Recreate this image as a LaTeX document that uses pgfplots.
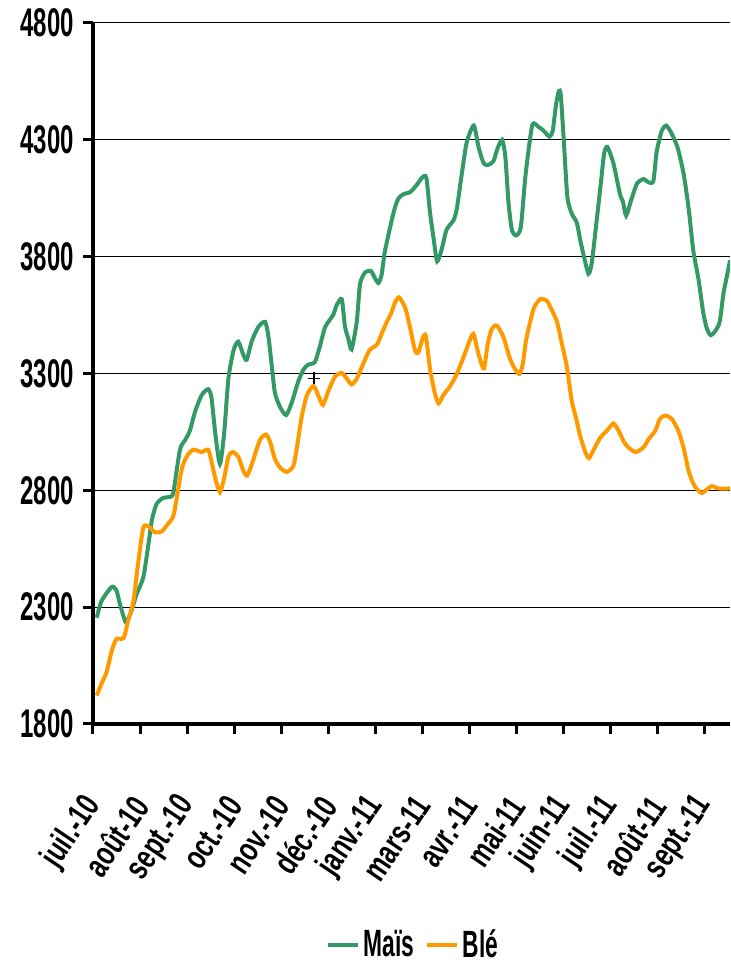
\documentclass[border=0pt]{standalone}
\usepackage{fontspec}
\setmainfont{Liberation Sans}
\newfontfamily\nf{Liberation Sans}[FakeStretch=0.6]
\newfontfamily\xf{Liberation Sans}[FakeStretch=0.72]
\usepackage{pgfplots}
\pgfplotsset{compat=1.18}
\definecolor{mais}{HTML}{339966}
\definecolor{ble}{HTML}{FF9900}
\begin{document}
\begin{tikzpicture}
\begin{axis}[
  scale only axis,
  width=318.5pt, height=350.5pt,
  xmin=0, xmax=13.55,
  ymin=1800, ymax=4800,
  axis x line=bottom, axis y line=left,
  axis line style={-, line width=1.8pt},
  xtick={0,1,2,3,4,5,6,7,8,9,10,11,12,13},
  xticklabels={juil.-10,août-10,sept.-10,oct.-10,nov.-10,déc.-10,janv.-11,mars-11,avr.-11,mai-11,juin-11,juil.-11,août-11,sept.-11},
  ytick={1800,2300,2800,3300,3800,4300,4800},
  yticklabels={1800,2300,2800,3300,3800,4300,4800},
  tick align=outside,
  major tick length=5pt,
  tick style={line width=1.5pt, black},
  ymajorgrids,
  grid style={black, line width=0.5pt},
  /pgf/number format/assume math mode=true,
  yticklabel style={font=\nf\bfseries\fontsize{20}{20}\selectfont, xshift=-1pt},
  xticklabel style={font=\xf\bfseries\fontsize{17}{17}\selectfont, yshift=-32pt, xshift=1pt, rotate=56, anchor=east, inner sep=1pt},
  legend style={at={(0.504,-0.315)}, anchor=center, draw=none, fill=none,
    legend columns=2, font=\nf\bfseries\fontsize{19}{19}\selectfont,
    /tikz/every even column/.append style={column sep=3pt}},
  legend image code/.code={\draw[#1] (0pt,0pt) -- (15pt,0pt);},
  clip=true,
]
\addplot[mais, line width=2pt, smooth, tension=0.4] coordinates {
(0.08,2255) (0.18,2326) (0.40,2387) (0.50,2371) (0.57,2316) (0.70,2235)
(0.82,2286) (0.93,2357) (1.07,2428) (1.18,2570) (1.25,2670) (1.35,2741)
(1.50,2768) (1.64,2772) (1.71,2792) (1.85,2974) (1.96,3015) (2.06,3055)
(2.17,3136) (2.31,3207) (2.45,3233) (2.52,3197) (2.60,3045) (2.70,2913)
(2.79,3045) (2.88,3278) (2.99,3399) (3.09,3436) (3.20,3379) (3.27,3359)
(3.38,3440) (3.52,3500) (3.66,3521) (3.73,3460) (3.80,3338) (3.87,3217)
(3.98,3156) (4.11,3122) (4.23,3177) (4.37,3268) (4.48,3318) (4.58,3338)
(4.72,3349) (4.83,3419) (4.94,3500) (5.11,3551) (5.18,3591) (5.29,3618)
(5.36,3500) (5.43,3450) (5.50,3403) (5.61,3521) (5.68,3683) (5.79,3733)
(5.91,3739) (6.00,3707) (6.07,3687) (6.14,3723) (6.21,3824) (6.39,3986)
(6.49,4047) (6.60,4067) (6.75,4077) (6.89,4108) (7.00,4138) (7.09,4138)
(7.17,3986) (7.24,3885) (7.32,3780) (7.42,3834) (7.52,3915) (7.67,3956)
(7.74,4006) (7.84,4148) (7.95,4290) (8.10,4361) (8.20,4270) (8.31,4199)
(8.41,4193) (8.52,4209) (8.60,4260) (8.70,4300) (8.77,4229) (8.84,4027)
(8.91,3915) (9.00,3891) (9.10,3926) (9.19,4128) (9.26,4249) (9.35,4367)
(9.48,4355) (9.58,4340) (9.71,4314) (9.78,4340) (9.85,4452) (9.91,4509)
(9.95,4492) (10.01,4310) (10.09,4057) (10.18,3986) (10.29,3946) (10.36,3875)
(10.45,3794) (10.54,3727) (10.61,3774) (10.72,3966) (10.81,4128) (10.87,4239)
(10.94,4270) (11.07,4199) (11.21,4067) (11.27,4037) (11.34,3976) (11.44,4037)
(11.57,4112) (11.71,4132) (11.82,4118) (11.92,4124) (11.99,4249) (12.10,4340)
(12.19,4361) (12.29,4334) (12.43,4270) (12.56,4158) (12.67,4006) (12.77,3824)
(12.88,3703) (12.98,3561) (13.06,3490) (13.14,3464) (13.23,3480) (13.33,3521)
(13.41,3642) (13.48,3713) (13.55,3784)
};
\addlegendentry{Maïs}
\addplot[ble, line width=2pt, smooth, tension=0.4] coordinates {
(0.08,1922) (0.18,1972) (0.29,2023) (0.40,2114) (0.50,2164) (0.65,2168)
(0.75,2245) (0.86,2326) (0.96,2488) (1.07,2640) (1.18,2646) (1.32,2620)
(1.46,2624) (1.57,2650) (1.71,2691) (1.81,2802) (1.89,2893) (1.99,2944)
(2.13,2974) (2.31,2964) (2.45,2974) (2.52,2924) (2.60,2853) (2.70,2792)
(2.79,2853) (2.88,2944) (2.97,2964) (3.09,2944) (3.20,2883) (3.28,2863)
(3.38,2913) (3.55,3015) (3.68,3039) (3.77,3005) (3.87,2934) (3.98,2897)
(4.12,2879) (4.26,2903) (4.33,2974) (4.44,3116) (4.55,3207) (4.69,3247)
(4.79,3207) (4.89,3166) (5.01,3227) (5.15,3288) (5.29,3302) (5.40,3278)
(5.50,3253) (5.61,3278) (5.74,3338) (5.88,3399) (6.04,3424) (6.14,3470)
(6.25,3521) (6.35,3561) (6.42,3602) (6.51,3626) (6.64,3581) (6.74,3500)
(6.85,3399) (6.92,3389) (7.01,3450) (7.08,3460) (7.17,3318) (7.27,3217)
(7.35,3172) (7.45,3207) (7.60,3247) (7.74,3298) (7.88,3369) (7.99,3429)
(8.09,3470) (8.18,3399) (8.25,3349) (8.32,3322) (8.39,3419) (8.48,3490)
(8.59,3505) (8.73,3456) (8.87,3363) (8.98,3318) (9.07,3298) (9.14,3338)
(9.21,3440) (9.30,3521) (9.38,3581) (9.51,3618) (9.65,3612) (9.76,3571)
(9.87,3521) (9.97,3430) (10.08,3328) (10.18,3187) (10.29,3096) (10.36,3035)
(10.47,2964) (10.55,2938) (10.65,2974) (10.79,3025) (10.93,3055) (11.07,3086)
(11.18,3055) (11.30,3005) (11.42,2978) (11.55,2964) (11.71,2984) (11.82,3019)
(11.96,3055) (12.06,3106) (12.17,3120) (12.31,3106) (12.45,3055) (12.56,2984)
(12.67,2883) (12.77,2828) (12.86,2802) (12.95,2788) (13.05,2802) (13.16,2818)
(13.30,2808) (13.55,2808)
};
\addlegendentry{Blé}
\addplot[black, only marks, mark=+, mark size=3pt, line width=0.8pt, forget plot] coordinates {(4.70,3279)};
\end{axis}
\pgfresetboundingbox
\path (current axis.south west) +(-46.5pt,-120.5pt) (current axis.north east) +(0pt,11.5pt);
\end{tikzpicture}
\end{document}
